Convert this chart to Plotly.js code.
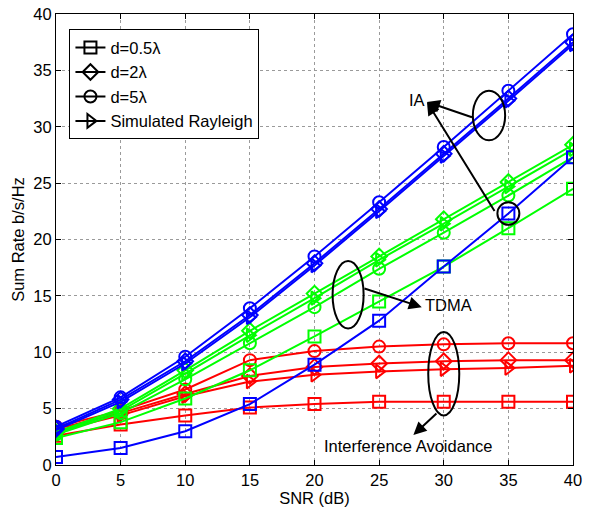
<!DOCTYPE html>
<html>
<head>
<meta charset="utf-8">
<script src="https://cdn.plot.ly/plotly-3.0.1.min.js"></script>
<style>html,body{margin:0;padding:0;background:#fff;}#chart{width:598px;height:508px;}</style>
</head>
<body>
<div id="chart"></div>
<script>
const snr = [0, 5, 10, 15, 20, 25, 30, 35, 40];

// Interference Alignment (blue)
const iaD05 = [0.7, 1.5, 3.0, 5.4, 8.9, 12.8, 17.6, 22.3, 27.3];
const iaD2 = [3.2, 5.8, 9.2, 13.3, 17.9, 22.7, 27.6, 32.5, 37.5];
const iaD5 = [3.4, 6.0, 9.6, 13.9, 18.5, 23.3, 28.2, 33.2, 38.2];
const iaRay = [3.1, 5.6, 9.0, 13.1, 17.7, 22.5, 27.4, 32.3, 37.3];

// TDMA (green)
const tdD05 = [2.4, 3.8, 5.9, 8.4, 11.4, 14.5, 17.6, 21.0, 24.5];
const tdD2 = [2.9, 5.0, 8.4, 11.9, 15.2, 18.5, 21.8, 25.1, 28.4];
const tdD5 = [2.7, 4.6, 7.6, 10.8, 14.0, 17.4, 20.6, 23.9, 27.3];
const tdRay = [2.8, 4.8, 8.1, 11.5, 14.8, 18.2, 21.4, 24.7, 28.0];

// Interference Avoidance (red)
const avD05 = [2.6, 3.6, 4.4, 5.1, 5.4, 5.6, 5.6, 5.6, 5.6];
const avD2 = [3.2, 4.6, 6.3, 7.9, 8.7, 9.0, 9.2, 9.3, 9.3];
const avD5 = [3.4, 4.8, 6.7, 9.3, 10.1, 10.5, 10.7, 10.8, 10.8];
const avRay = [3.0, 4.4, 6.1, 7.4, 8.0, 8.3, 8.5, 8.6, 8.8];

const legendNames = ['d=0.5\u03bb', 'd=2\u03bb', 'd=5\u03bb', 'Simulated Rayleigh'];
const symbols = ['square-open', 'diamond-open', 'circle-open', 'triangle-right-open'];

const groups = [
  {color: '#ff0000', series: [avD05, avD2, avD5, avRay]},
  {color: '#00ff00', series: [tdD05, tdD2, tdD5, tdRay]},
  {color: '#0000ff', series: [iaD05, iaD2, iaD5, iaRay]}
];

const traces = [];
groups.forEach(g => {
  g.series.forEach((ys, i) => {
    traces.push({
      x: snr, y: ys, type: 'scatter', mode: 'lines+markers',
      line: {color: g.color, width: 2},
      marker: {symbol: symbols[i], size: 12, color: g.color, line: {color: g.color, width: 2}},
      showlegend: false, hoverinfo: 'skip'
    });
  });
});
legendNames.forEach((n, i) => {
  traces.push({
    x: [null], y: [null], type: 'scatter', mode: 'lines+markers', name: n,
    line: {color: '#000', width: 2},
    marker: {symbol: symbols[i], size: 12, color: '#000', line: {color: '#000', width: 2}}
  });
});

const fnt = {family: 'Liberation Sans, Arial, sans-serif', size: 16.5, color: '#000'};

const layout = {
  width: 598, height: 508,
  margin: {l: 56, r: 25, t: 14, b: 43},
  paper_bgcolor: '#fff', plot_bgcolor: '#fff',
  font: fnt,
  showlegend: true,
  legend: {x: 0.026, y: 0.966, xanchor: 'left', yanchor: 'top', bgcolor: '#fff',
           bordercolor: '#000', borderwidth: 1, font: fnt, tracegroupgap: 0, itemwidth: 30},
  xaxis: {
    range: [0, 40], dtick: 5, tick0: 0, title: {text: 'SNR (dB)', font: fnt, standoff: 2},
    showgrid: true, gridcolor: '#9a9a9a', griddash: 'dot', gridwidth: 1,
    showline: true, linecolor: '#000', linewidth: 1, mirror: 'ticks',
    ticks: 'inside', ticklen: 5, tickcolor: '#000', zeroline: false, tickfont: fnt
  },
  yaxis: {
    range: [0, 40], dtick: 5, tick0: 0, title: {text: 'Sum Rate b/s/Hz', font: fnt, standoff: 4},
    showgrid: true, gridcolor: '#9a9a9a', griddash: 'dot', gridwidth: 1,
    showline: true, linecolor: '#000', linewidth: 1, mirror: 'ticks',
    ticks: 'inside', ticklen: 5, tickcolor: '#000', zeroline: false, tickfont: fnt
  },
  shapes: [
    {type: 'circle', xref: 'x', yref: 'y', x0: 32.25, x1: 34.75, y0: 28.8, y1: 33.2, line: {color: '#000', width: 2}},
    {type: 'circle', xref: 'x', yref: 'y', x0: 34.15, x1: 35.85, y0: 21.3, y1: 23.3, line: {color: '#000', width: 2}},
    {type: 'circle', xref: 'x', yref: 'y', x0: 21.4, x1: 23.8, y0: 12.1, y1: 18.1, line: {color: '#000', width: 2}},
    {type: 'circle', xref: 'x', yref: 'y', x0: 28.8, x1: 31.2, y0: 4.4, y1: 11.8, line: {color: '#000', width: 2}}
  ],
  annotations: [
    {x: 28.7, y: 32.2, ax: 32.3, ay: 30.8, axref: 'x', ayref: 'y', xref: 'x', yref: 'y', text: '', showarrow: true, arrowhead: 2, arrowsize: 1.3, arrowwidth: 2, arrowcolor: '#000'},
    {x: 28.7, y: 32.2, ax: 34.0, ay: 22.4, axref: 'x', ayref: 'y', xref: 'x', yref: 'y', text: '', showarrow: true, arrowhead: 2, arrowsize: 1.3, arrowwidth: 2, arrowcolor: '#000'},
    {x: 27.9, y: 32.4, xref: 'x', yref: 'y', text: 'IA', showarrow: false, font: fnt, xanchor: 'center', yanchor: 'middle'},
    {x: 28.3, y: 14.0, ax: 23.75, ay: 15.7, axref: 'x', ayref: 'y', xref: 'x', yref: 'y', text: '', showarrow: true, arrowhead: 2, arrowsize: 1.3, arrowwidth: 2, arrowcolor: '#000'},
    {x: 28.4, y: 14.2, xref: 'x', yref: 'y', text: 'TDMA', showarrow: false, font: fnt, xanchor: 'left', yanchor: 'middle'},
    {x: 27.65, y: 2.66, ax: 29.55, ay: 4.7, axref: 'x', ayref: 'y', xref: 'x', yref: 'y', text: '', showarrow: true, arrowhead: 2, arrowsize: 1.3, arrowwidth: 2, arrowcolor: '#000'},
    {x: 27.2, y: 1.7, xref: 'x', yref: 'y', text: 'Interference Avoidance', showarrow: false, font: fnt, xanchor: 'center', yanchor: 'middle'}
  ]
};

Plotly.newPlot('chart', traces, layout, {displayModeBar: false, staticPlot: true});
</script>
</body>
</html>
